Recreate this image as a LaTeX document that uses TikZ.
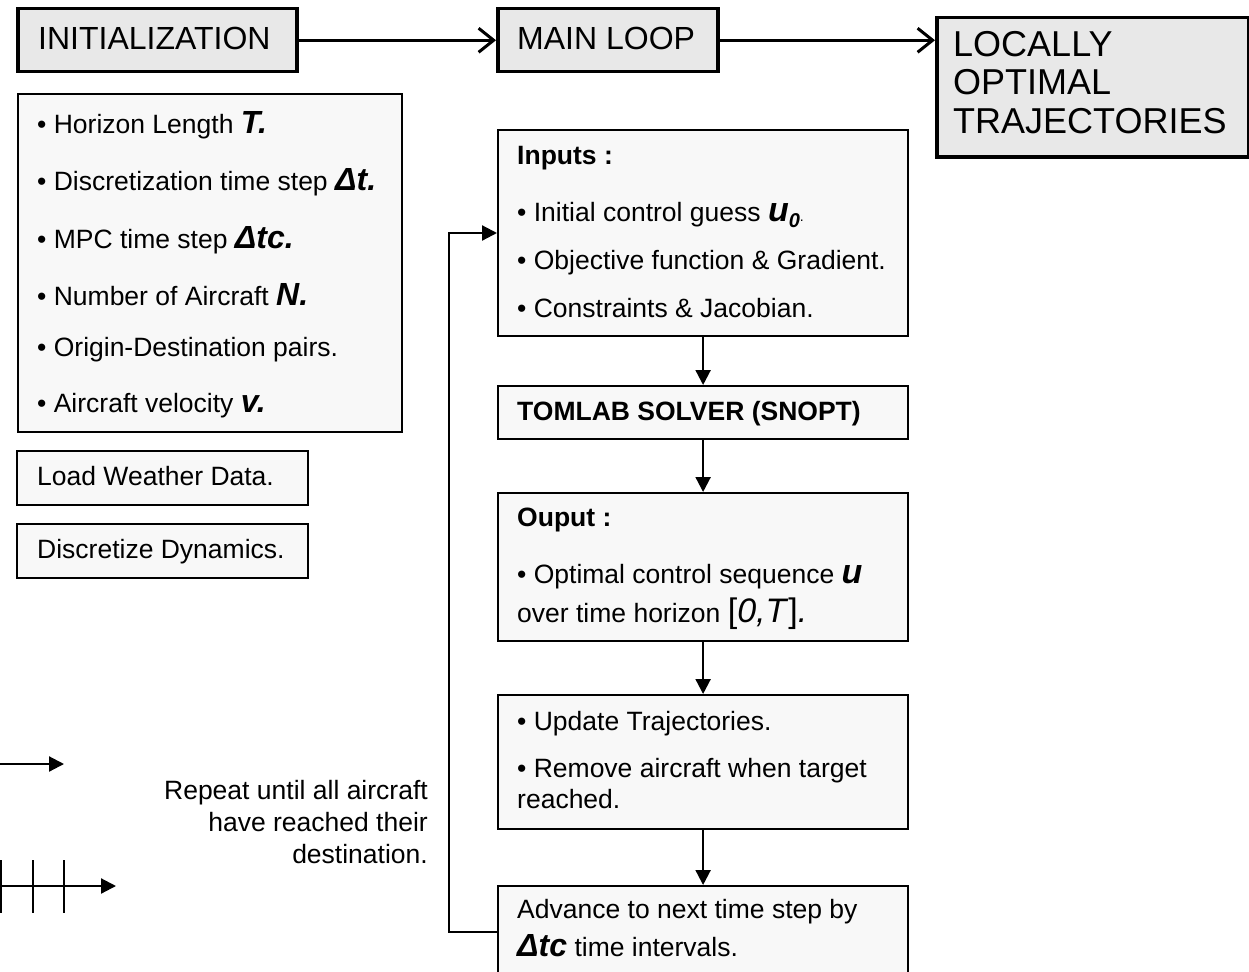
\documentclass[tikz,border=0pt]{standalone}
\usepackage{fontspec}
\setmainfont{Liberation Sans}
\usetikzlibrary{arrows.meta}
\definecolor{hdrfill}{HTML}{E8E8E8}
\definecolor{boxfill}{HTML}{F8F8F8}
\newcommand{\bfit}[1]{{\fontsize{32}{32}\selectfont\bfseries\itshape #1}}
\newcommand{\bigu}{{\fontsize{34}{34}\selectfont\bfseries\itshape u}}
\begin{document}
\begin{tikzpicture}[x=1pt,y=-1pt,
  hdr/.style={draw, line width=3.5pt, fill=hdrfill, anchor=north west, inner sep=0pt},
  body/.style={draw, line width=2.2pt, fill=boxfill, anchor=north west, inner sep=0pt},
  txt/.style={anchor=base west, inner sep=0pt, font=\fontsize{26.5}{32}\selectfont},
  rtxt/.style={anchor=base east, inner sep=0pt, font=\fontsize{26.5}{32}\selectfont},
  htxt/.style={anchor=base west, inner sep=0pt, font=\fontsize{32}{38}\selectfont},
  ltxt/.style={anchor=base west, inner sep=0pt, font=\fontsize{36}{40}\selectfont},
  flow/.style={line width=2.2pt, -{Triangle[length=15pt,width=15pt]}},
  topflow/.style={line width=3pt, -{Straight Barb[length=15pt,width=24pt,line width=3pt]}},
]
\useasboundingbox (0,0) rectangle (1249,971);
\clip (0,0) rectangle (1249,971);

% headers
\node[hdr, minimum width=279pt, minimum height=63pt] (init) at (16,7) {};
\node[htxt] (initT) at (38,50) {INITIALIZATION};
\node[hdr, minimum width=220pt, minimum height=63pt] (main) at (496,7) {};
\node[htxt] (mainT) at (517,50) {MAIN LOOP};
\node[hdr, minimum width=312pt, minimum height=139pt] (loc) at (935,16) {};
\node[ltxt] (locA) at (953,57) {LOCALLY};
\node[ltxt] (locB) at (953,95) {OPTIMAL};
\node[ltxt] (locC) at (953,133) {TRAJECTORIES};

\draw[topflow] (init.east) -- (main.west);
\draw[topflow] (main.east) -- (main.east -| loc.west);

% parameters
\node[body, minimum width=384pt, minimum height=338pt] (par) at (17,93) {};
\node[txt] (p1) at (37,133) {• Horizon Length \bfit{T.}};
\node[txt] (p2) at (37,190) {• Discretization time step \bfit{Δt.}};
\node[txt] (p3) at (37,248) {• MPC time step \bfit{Δtc.}};
\node[txt] (p4) at (37,305) {• Number of Aircraft \bfit{N.}};
\node[txt] (p5) at (37,356) {• Origin-Destination pairs.};
\node[txt] (p6) at (37,412) {• Aircraft velocity \bfit{v.}};

\node[body, minimum width=291pt, minimum height=54pt] (load) at (16,450) {};
\node[txt] (loadT) at (37,485) {Load Weather Data.};
\node[body, minimum width=291pt, minimum height=54pt] (disc) at (16,523) {};
\node[txt] (discT) at (37,558) {Discretize Dynamics.};

% main loop column
\node[body, minimum width=410pt, minimum height=206pt] (inp) at (497,129) {};
\node[txt] (i1) at (517,164) {\textbf{Inputs :}};
\node[txt] (i2) at (517,221) {• Initial control guess \bigu\raisebox{-6pt}{\fontsize{20}{20}\selectfont\bfseries\itshape 0}{\fontsize{14}{14}\selectfont.}};
\node[txt] (i3) at (517,269) {• Objective function \& Gradient.};
\node[txt] (i4) at (517,317) {• Constraints \& Jacobian.};

\node[body, minimum width=410pt, minimum height=53pt] (tom) at (497,385) {};
\node[txt] (tomT) at (517,420) {\textbf{TOMLAB SOLVER (SNOPT)}};

\node[body, minimum width=410pt, minimum height=148pt] (out) at (497,492) {};
\node[txt] (o1) at (517,526) {\textbf{Ouput :}};
\node[txt] (o2) at (517,583) {• Optimal control sequence \bigu};
\node[txt] (o3) at (517,622) {over time horizon {\fontsize{34}{34}\selectfont[\textit{0,T}]\textit{.}}};

\node[body, minimum width=410pt, minimum height=134pt] (upd) at (497,694) {};
\node[txt] (u1) at (517,730) {• Update Trajectories.};
\node[txt] (u2) at (517,777) {• Remove aircraft when target};
\node[txt] (u3) at (517,808) {reached.};

\node[body, minimum width=410pt, minimum height=130pt] (adv) at (497,885) {};
\node[txt] (a1) at (517,918) {Advance to next time step by};
\node[txt] (a2) at (517,956) {\bfit{Δtc} time intervals.};

\draw[flow] (inp.south) -- (tom.north);
\draw[flow] (tom.south) -- (out.north);
\draw[flow] (out.south) -- (upd.north);
\draw[flow] (upd.south) -- (adv.north);

% feedback loop
\coordinate (fbA) at (497,932);
\coordinate (fbB) at (449,932);
\coordinate (fbC) at (449,233);
\draw[flow] (fbA) -- (fbB) -- (fbC) -- (fbC -| inp.west);

% repeat text
\node[rtxt] (r1) at (428,799) {Repeat until all aircraft};
\node[rtxt] (r2) at (428,831) {have reached their};
\node[rtxt] (r3) at (428,863) {destination.};

% legend arrows
\coordinate (l1a) at (0,764);
\coordinate (l1b) at (64,764);
\draw[flow] (l1a) -- (l1b);
\coordinate (l2a) at (0,886);
\coordinate (l2b) at (116,886);
\draw[flow] (l2a) -- (l2b);
\coordinate (t1a) at (1,860); \coordinate (t1b) at (1,913);
\coordinate (t2a) at (33,860); \coordinate (t2b) at (33,913);
\coordinate (t3a) at (64,860); \coordinate (t3b) at (64,913);
\draw[line width=2.2pt] (t1a) -- (t1b) (t2a) -- (t2b) (t3a) -- (t3b);
\end{tikzpicture}
\end{document}
